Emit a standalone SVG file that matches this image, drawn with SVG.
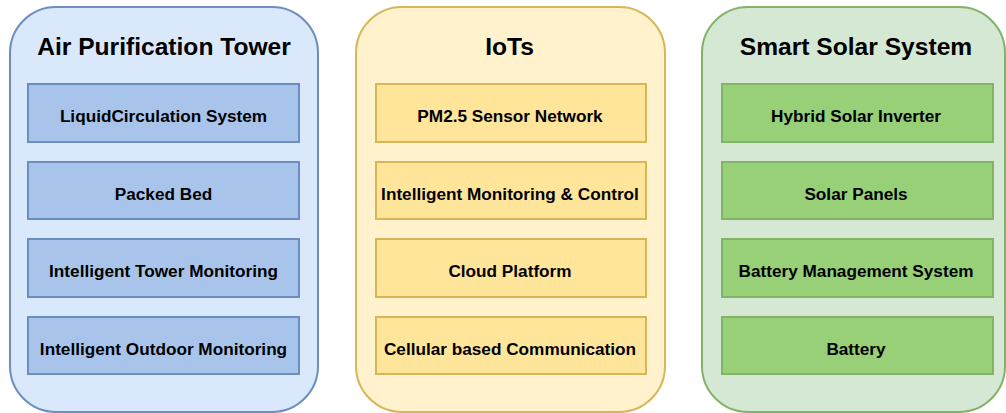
<svg xmlns="http://www.w3.org/2000/svg" width="1006" height="413" viewBox="0 0 1006 413">
<style>
.t{font-family:"Liberation Sans",Arial,sans-serif;font-weight:bold;fill:#000;text-anchor:middle}
.title{font-size:24.6px}
.lbl{font-size:17.2px}
.c1{fill:#dae8fc;stroke:#6c8ebf;stroke-width:2}
.b1{fill:#a9c4eb;stroke:#6c8ebf;stroke-width:2}
.c2{fill:#fff2cc;stroke:#d6b656;stroke-width:2}
.b2{fill:#ffe599;stroke:#d6b656;stroke-width:2}
.c3{fill:#d5e8d4;stroke:#82b366;stroke-width:2}
.b3{fill:#97d077;stroke:#82b366;stroke-width:2}
</style>
<rect width="1006" height="413" fill="#ffffff"/>
<g id="air-purification-tower">
<rect class="c1" x="10" y="7" width="308" height="405" rx="46" ry="46"/>
<text class="t title" x="164" y="55">Air Purification Tower</text>
</g>
<g id="liquid-circulation"><rect class="b1" x="28" y="84" width="271" height="58"/><text class="t lbl" x="163.5" y="122">LiquidCirculation System</text></g>
<g id="packed-bed"><rect class="b1" x="28" y="162" width="271" height="57"/><text class="t lbl" x="163.5" y="199.5">Packed Bed</text></g>
<g id="intelligent-tower-monitoring"><rect class="b1" x="28" y="239" width="271" height="58"/><text class="t lbl" x="163.5" y="277">Intelligent Tower Monitoring</text></g>
<g id="intelligent-outdoor-monitoring"><rect class="b1" x="28" y="317" width="271" height="57"/><text class="t lbl" x="163.5" y="354.5">Intelligent Outdoor Monitoring</text></g>

<g id="iots">
<rect class="c2" x="356" y="7" width="309" height="405" rx="46" ry="46"/>
<text class="t title" x="509.5" y="55">IoTs</text>
</g>
<g id="pm25-sensor-network"><rect class="b2" x="376" y="84" width="270" height="58"/><text class="t lbl" x="510" y="122">PM2.5 Sensor Network</text></g>
<g id="intelligent-monitoring-control"><rect class="b2" x="376" y="162" width="270" height="57"/><text class="t lbl" x="510" y="199.5">Intelligent Monitoring &amp; Control</text></g>
<g id="cloud-platform"><rect class="b2" x="376" y="239" width="270" height="58"/><text class="t lbl" x="510" y="277">Cloud Platform</text></g>
<g id="cellular-communication"><rect class="b2" x="376" y="317" width="270" height="57"/><text class="t lbl" x="510" y="354.5">Cellular based Communication</text></g>

<g id="smart-solar-system">
<rect class="c3" x="702" y="7" width="303" height="405" rx="46" ry="46"/>
<text class="t title" x="856" y="55">Smart Solar System</text>
</g>
<g id="hybrid-solar-inverter"><rect class="b3" x="722" y="84" width="271" height="58"/><text class="t lbl" x="856" y="122">Hybrid Solar Inverter</text></g>
<g id="solar-panels"><rect class="b3" x="722" y="162" width="271" height="57"/><text class="t lbl" x="856" y="199.5">Solar Panels</text></g>
<g id="battery-management-system"><rect class="b3" x="722" y="239" width="271" height="58"/><text class="t lbl" x="856" y="277">Battery Management System</text></g>
<g id="battery"><rect class="b3" x="722" y="317" width="271" height="57"/><text class="t lbl" x="856" y="354.5">Battery</text></g>
<g id="connectors"></g>
</svg>
